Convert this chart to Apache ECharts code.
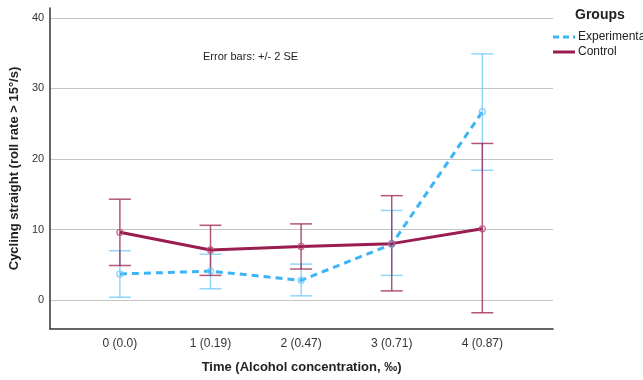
<!DOCTYPE html>
<html>
<head>
<meta charset="utf-8">
<script src="https://cdn.jsdelivr.net/npm/echarts@6/dist/echarts.min.js"></script>
<style>
  body { margin: 0; background: #fff; }
  #chart { width: 643px; height: 380px; }
</style>
</head>
<body>
<div id="chart"></div>
<script>
const categories = ["0 (0.0)", "1 (0.19)", "2 (0.47)", "3 (0.71)", "4 (0.87)"];
const yTicks = [0, 10, 20, 30, 40];
const groups = ["Experimental", "Control"];

const expMean = [3.7, 4.1, 2.8, 7.9, 26.7];
const expLow = [0.4, 1.6, 0.6, 3.5, 18.4];
const expHigh = [7.0, 6.5, 5.1, 12.7, 34.9];

const ctrlMean = [9.6, 7.1, 7.6, 8.0, 10.1];
const ctrlLow = [4.9, 3.5, 4.4, 1.3, -1.8];
const ctrlHigh = [14.3, 10.6, 10.8, 14.8, 22.2];

const blue = "#3cb4f5";
const maroon = "#9a1d4f";

function errData(low, high) {
    return low.map((v, i) => [i, v, high[i]]);
}

function errorBar(color) {
    return function (params, api) {
        let x = api.value(0);
        let lo = api.coord([x, api.value(1)]);
        let hi = api.coord([x, api.value(2)]);
        let half = 11;
        let style = { stroke: color, lineWidth: 1.5, opacity: 0.75 };
        return {
            type: "group",
            children: [
                { type: "line", shape: { x1: lo[0], y1: lo[1], x2: hi[0], y2: hi[1] }, style: style },
                { type: "line", shape: { x1: lo[0] - half, y1: lo[1], x2: lo[0] + half, y2: lo[1] }, style: style },
                { type: "line", shape: { x1: hi[0] - half, y1: hi[1], x2: hi[0] + half, y2: hi[1] }, style: style },
            ],
        };
    };
}

// hand-made legend: the built-in one puts a marker on the line
function legendItem(name, color, dash, y) {
    return [
        {
            type: "line",
            shape: { x1: 553, y1: y, x2: 575, y2: y },
            style: { stroke: color, lineWidth: 3, lineDash: dash },
        },
        {
            type: "text",
            x: 578,
            y: y,
            style: { text: name, font: "12px Liberation Sans, Arial", fill: "#222", verticalAlign: "middle" },
        },
    ];
}

let myChart = echarts.init(document.getElementById("chart"), null, { renderer: "canvas" });

let option = {
    backgroundColor: "#fff",
    animation: false,
    textStyle: { fontFamily: "Liberation Sans, Arial, sans-serif" },
    grid: { left: 50, right: 90, top: 8, bottom: 51 },
    graphic: [
        {
            type: "text",
            left: 575,
            top: 8,
            style: { text: "Groups", font: "bold 14px Liberation Sans, Arial", fill: "#222" },
        },
        {
            type: "text",
            left: 203,
            top: 51,
            style: { text: "Error bars: +/- 2 SE", font: "11px Liberation Sans, Arial", fill: "#222" },
        },
        ...legendItem(groups[0], blue, [6, 4], 37),
        ...legendItem(groups[1], maroon, null, 52),
    ],
    xAxis: {
        type: "value",
        min: -0.77,
        max: 4.78,
        name: "Time (Alcohol concentration, \u2030)",
        nameLocation: "middle",
        nameGap: 32,
        nameTextStyle: { fontWeight: "bold", fontSize: 13, color: "#222" },
        axisLine: { onZero: false, lineStyle: { color: "#333", width: 1.5 } },
        axisTick: { show: false, customValues: [0, 1, 2, 3, 4] },
        splitLine: { show: false },
        axisLabel: {
            customValues: [0, 1, 2, 3, 4],
            formatter: (v) => categories[v],
            color: "#333",
            fontSize: 12,
            margin: 9,
        },
    },
    yAxis: {
        type: "value",
        min: -4.1,
        max: 41.4,
        name: "Cycling straight (roll rate > 15\u00b0/s)",
        nameLocation: "middle",
        nameGap: 26,
        nameTextStyle: { fontWeight: "bold", fontSize: 13, color: "#222" },
        axisLine: { show: true, onZero: false, lineStyle: { color: "#333", width: 1.5 } },
        axisTick: { show: false, customValues: yTicks },
        axisLabel: { customValues: yTicks, color: "#333", fontSize: 11, margin: 6 },
        splitLine: { show: true, lineStyle: { color: "#c4c4c4", width: 1 } },
    },
    series: [
        {
            name: "expErr",
            type: "custom",
            renderItem: errorBar("#6cc8fb"),
            data: errData(expLow, expHigh),
            encode: { x: 0, y: [1, 2] },
            z: 2,
        },
        {
            name: "ctrlErr",
            type: "custom",
            renderItem: errorBar(maroon),
            data: errData(ctrlLow, ctrlHigh),
            encode: { x: 0, y: [1, 2] },
            z: 2,
        },
        {
            name: groups[0],
            type: "line",
            data: expMean.map((v, i) => [i, v]),
            color: blue,
            symbol: "none",
            lineStyle: { color: blue, width: 3, type: [7, 5] },
            z: 3,
        },
        {
            name: groups[1],
            type: "line",
            data: ctrlMean.map((v, i) => [i, v]),
            color: maroon,
            symbol: "none",
            lineStyle: { color: maroon, width: 3 },
            z: 4,
        },
        {
            name: "expPts",
            type: "scatter",
            data: expMean.map((v, i) => [i, v]),
            symbol: "circle",
            symbolSize: 6,
            itemStyle: { color: "rgba(255,255,255,0)", borderColor: "#6cc8fb", borderWidth: 1.3 },
            z: 5,
        },
        {
            name: "ctrlPts",
            type: "scatter",
            data: ctrlMean.map((v, i) => [i, v]),
            symbol: "circle",
            symbolSize: 6,
            itemStyle: { color: "rgba(255,255,255,0)", borderColor: "#b04a74", borderWidth: 1.3 },
            z: 5,
        },
    ],
};

myChart.setOption(option);
window.onresize = () => {
    myChart.resize();
};
</script>
</body>
</html>
